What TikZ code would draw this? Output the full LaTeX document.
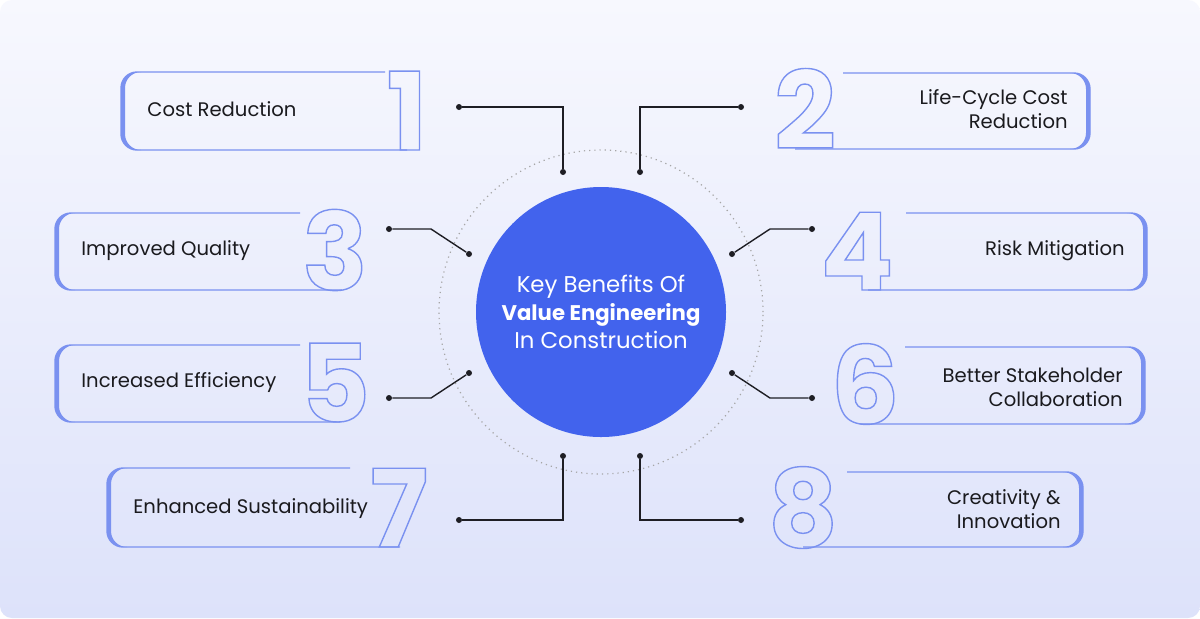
\documentclass[tikz,border=0pt]{standalone}
\usepackage{fontspec}
\setmainfont{Poppins}
\usetikzlibrary{positioning}

\definecolor{boxblue}{RGB}{122,145,240}
\definecolor{hubblue}{RGB}{66,99,237}
\definecolor{bgtop}{RGB}{247,248,254}
\definecolor{bgbot}{RGB}{221,226,250}
\definecolor{inkline}{RGB}{30,30,36}
\definecolor{labink}{RGB}{26,26,30}

% hollow digits: stroke only
\newcommand{\outlined}[1]{\special{pdf:literal direct 1 Tr 0.7 w}#1\special{pdf:literal direct 0 Tr}}

\tikzset{
  dot/.style={circle, fill=inkline, inner sep=0pt, minimum size=3pt},
  wire/.style={draw=inkline, line width=0.7pt},
  boxline/.style={draw=boxblue, line width=0.7pt, rounded corners=8pt},
  numeral/.style={anchor=base, inner sep=0pt, text=boxblue, font=\fontsize{54}{54}\selectfont\bfseries},
  benefit/.style={inner sep=0pt, text=labink, font=\fontsize{9.8}{12}\selectfont}
}

\begin{document}
\begin{tikzpicture}[x=0.5pt, y=-0.5pt]
  \fill[white] (0,0) rectangle (1200,618);
  \shade[top color=bgtop, bottom color=bgbot, rounded corners=6pt] (0,0) rectangle (1200,618);
  \useasboundingbox (0,0) rectangle (1200,618);

  % hub
  \node[circle, fill=hubblue, minimum size=125pt, inner sep=0pt, text=white, align=center,
        font=\fontsize{11.4}{14}\selectfont] (hub) at (601,312)
        {Key Benefits Of\\{\fontsize{10.6}{14}\selectfont\bfseries Value Engineering}\\In Construction};
  \draw[gray!70, dotted, line width=0.6pt] (hub.center) circle[radius=81pt];

  % left boxes
  \foreach \num/\xl/\yt/\yb/\te/\be/\nx/\lab/\ly in {
      1/121/72/150/385/407/407/Cost Reduction/109,
      3/55/213/290/300/342/335/Improved Quality/251,
      5/55/345/422/300/340/335/Increased Efficiency/383,
      7/107/468/547/350/400/399/Enhanced Sustainability/509}{
    \draw[boxline] (\te,\yt) -- (\xl,\yt) -- (\xl,\yb) -- (\be,\yb);
    \begin{scope}
      \clip (\xl-3,\yt-3) rectangle (\xl+20,\yb+3);
      \fill[boxblue, even odd rule, rounded corners=8pt]
        (\xl,\yt) rectangle (\xl+60,\yb) (\xl+4,\yt) rectangle (\xl+64,\yb);
    \end{scope}
    \node[numeral] (n\num) at (\nx,\yb) {\outlined{\num}};
    \node[benefit, anchor=west] (t\num) at (\xl+26,\ly) {\lab};
  }

  % right boxes
  \foreach \num/\xr/\yt/\yb/\te/\be/\nx/\lab/\ly in {
      2/1090/73/149/843/795/805/{Life-Cycle Cost\\Reduction}/109,
      4/1147/213/290/906/868/857/Risk Mitigation/251,
      6/1145/347/424/905/860/865/{Better Stakeholder\\Collaboration}/387,
      8/1083/472/547/847/803/803/{Creativity \&\\Innovation}/509}{
    \draw[boxline] (\te,\yt) -- (\xr,\yt) -- (\xr,\yb) -- (\be,\yb);
    \begin{scope}
      \clip (\xr-20,\yt-3) rectangle (\xr+3,\yb+3);
      \fill[boxblue, even odd rule, rounded corners=8pt]
        (\xr-60,\yt) rectangle (\xr,\yb) (\xr-64,\yt) rectangle (\xr-4,\yb);
    \end{scope}
    \node[numeral] (n\num) at (\nx,\yb) {\outlined{\num}};
    \node[benefit, anchor=east, align=right] (t\num) at (\xr-22,\ly) {\lab};
  }

  % connectors
  \node[dot] (a1) at (459,107) {};  \node[dot] (b1) at (563,172) {};
  \node[dot] (a2) at (741,107) {};  \node[dot] (b2) at (640,172) {};
  \node[dot] (a3) at (389,229) {};  \node[dot] (b3) at (469,254) {};
  \node[dot] (a4) at (812,229) {};  \node[dot] (b4) at (732,254) {};
  \node[dot] (a5) at (389,398) {};  \node[dot] (b5) at (469,373) {};
  \node[dot] (a6) at (812,398) {};  \node[dot] (b6) at (732,373) {};
  \node[dot] (a7) at (459,520) {};  \node[dot] (b7) at (563,456) {};
  \node[dot] (a8) at (741,520) {};  \node[dot] (b8) at (640,456) {};
  \draw[wire] (a1) -| (b1);
  \draw[wire] (a2) -| (b2);
  \draw[wire] (a3) -- ++(42,0) -- (b3);
  \draw[wire] (a4) -- ++(-42,0) -- (b4);
  \draw[wire] (a5) -- ++(42,0) -- (b5);
  \draw[wire] (a6) -- ++(-42,0) -- (b6);
  \draw[wire] (a7) -| (b7);
  \draw[wire] (a8) -| (b8);
\end{tikzpicture}
\end{document}
